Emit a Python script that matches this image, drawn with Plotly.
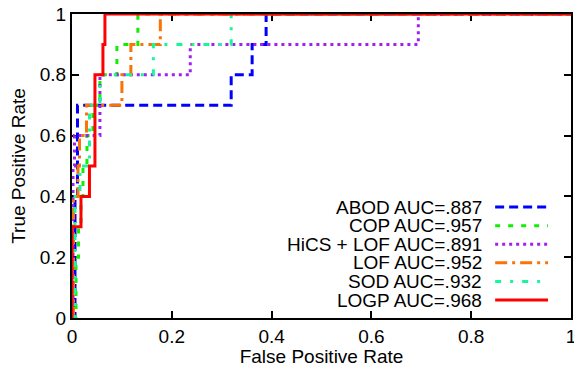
import plotly.graph_objects as go

# ROC step points (fpr at which each tpr level is reached), drawn with 'hv' steps
abod_fpr = [0, 0.006, 0.011, 0.319, 0.361, 0.389, 1]
abod_tpr = [0, 0.4, 0.7, 0.8, 0.9, 1.0, 1.0]

cop_fpr = [0, 0.008, 0.013, 0.018, 0.022, 0.030, 0.042, 0.056, 0.090, 0.132, 1]
cop_tpr = [0, 0.2, 0.3, 0.4, 0.5, 0.6, 0.7, 0.8, 0.9, 1.0, 1.0]

hics_fpr = [0, 0.002, 0.005, 0.056, 0.237, 0.694, 1]
hics_tpr = [0, 0.5, 0.6, 0.8, 0.9, 1.0, 1.0]

lof_fpr = [0, 0.003, 0.012, 0.015, 0.029, 0.100, 0.118, 0.177, 1]
lof_tpr = [0, 0.4, 0.5, 0.6, 0.7, 0.8, 0.9, 1.0, 1.0]

sod_fpr = [0, 0.006, 0.016, 0.035, 0.056, 0.163, 0.319, 1]
sod_tpr = [0, 0.4, 0.5, 0.7, 0.8, 0.9, 1.0, 1.0]

logp_fpr = [0, 0, 0.018, 0.035, 0.046, 0.062, 0.066, 1]
logp_tpr = [0, 0.3, 0.4, 0.5, 0.8, 0.9, 1.0, 1.0]

tick_vals = [0, 0.2, 0.4, 0.6, 0.8, 1]
tick_text = ["0", "0.2", "0.4", "0.6", "0.8", "1"]

names = ["ABOD AUC=.887", "COP AUC=.957", "HiCS + LOF AUC=.891",
         "LOF AUC=.952", "SOD AUC=.932", "LOGP AUC=.968"]
colors = ["#0000ff", "#11ee00", "#a020f0", "#f97306", "#19f59a", "#ff0000"]
dashes = ["9px,5px", "5px,8px", "3px,4px", "12px,5px,3px,5px", "6px,9px,3px,9px", "solid"]
series = [(abod_fpr, abod_tpr), (cop_fpr, cop_tpr), (hics_fpr, hics_tpr),
          (lof_fpr, lof_tpr), (sod_fpr, sod_tpr), (logp_fpr, logp_tpr)]

FS = 19

fig = go.Figure()
for (xs, ys), nm, c, d in zip(series, names, colors, dashes):
    fig.add_trace(go.Scatter(x=xs, y=ys, mode="lines", name=nm,
                             line=dict(color=c, dash=d, width=3, shape="hv"),
                             showlegend=False))

# gnuplot-style legend: right-aligned text, sample line on the right
leg_text_x = 0.824
leg_line_x0, leg_line_x1 = 0.848, 0.954
leg_top, leg_step = 0.365, 0.0612
for i, (nm, c, d) in enumerate(zip(names, colors, dashes)):
    yy = leg_top - i * leg_step
    fig.add_annotation(x=leg_text_x, y=yy, xref="paper", yref="paper",
                       text=nm, showarrow=False, xanchor="right", yanchor="middle",
                       borderpad=0, font=dict(size=FS, color="black"))
    fig.add_shape(type="line", xref="paper", yref="paper",
                  x0=leg_line_x0, x1=leg_line_x1, y0=yy, y1=yy,
                  line=dict(color=c, dash=d, width=3))

axis_common = dict(range=[0, 1], showgrid=False, zeroline=False, automargin=False,
                   showline=True, linecolor="black", linewidth=2, mirror="ticks",
                   ticks="inside", ticklen=7, tickwidth=2, tickcolor="black",
                   tickfont=dict(size=FS, color="black"), layer="below traces",
                   tickvals=tick_vals, ticktext=tick_text, ticklabeloverflow="allow")

fig.update_xaxes(**axis_common,
                 title=dict(text="False Positive Rate", font=dict(size=FS, color="black"), standoff=0))
fig.update_yaxes(**axis_common,
                 title=dict(text="True Positive Rate", font=dict(size=FS, color="black"), standoff=9))

fig.update_layout(width=574, height=367,
                  margin=dict(l=72, r=3, t=14, b=49),
                  paper_bgcolor="white", plot_bgcolor="white",
                  font=dict(family="Liberation Sans, Arial, sans-serif", size=FS, color="black"))

fig.write_html("out.html", config={"displayModeBar": False},
               post_script="document.body.style.margin='0';document.body.style.overflow='hidden';")
